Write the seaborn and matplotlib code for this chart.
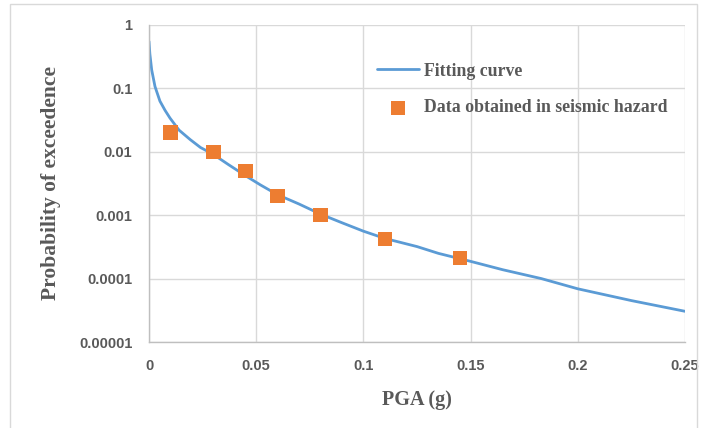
import matplotlib
matplotlib.use('Agg')
import matplotlib.pyplot as plt
import seaborn as sns
import pandas as pd
from matplotlib.patches import Rectangle
from matplotlib.font_manager import FontProperties

# fitted curve
curve_pga = [0.0, 0.0004, 0.00125, 0.0028, 0.0051, 0.0075, 0.0098, 0.014, 0.0192,
             0.024, 0.030, 0.037, 0.045, 0.052, 0.060, 0.070, 0.080, 0.090, 0.100,
             0.110, 0.125, 0.135, 0.150, 0.165, 0.183, 0.200, 0.225, 0.250]
curve_prob = [0.55, 0.35, 0.196, 0.107, 0.063, 0.045, 0.034, 0.022, 0.0156,
              0.0117, 0.0091, 0.0063, 0.0042, 0.003, 0.0021, 0.0015, 0.00104,
              0.00076, 0.00056, 0.00043, 0.00032, 0.00025, 0.000187, 0.000138,
              0.0001, 0.000069, 0.000045, 0.0000305]

# hazard data points
data_pga = [0.01, 0.03, 0.045, 0.06, 0.08, 0.11, 0.145]
data_prob = [0.02, 0.01, 0.005, 0.002, 0.001, 0.00042, 0.00021]

y_ticks = [1, 0.1, 0.01, 0.001, 0.0001, 0.00001]
y_labels = ['1', '0.1', '0.01', '0.001', '0.0001', '0.00001']
x_ticks = [0, 0.05, 0.1, 0.15, 0.2, 0.25]
x_labels = ['0', '0.05', '0.1', '0.15', '0.2', '0.25']

curve_df = pd.DataFrame({'pga': curve_pga, 'prob': curve_prob})
data_df = pd.DataFrame({'pga': data_pga, 'prob': data_prob})

sns.set_style('whitegrid', {'grid.color': '#d9d9d9', 'axes.edgecolor': '#bfbfbf'})

fig = plt.figure(figsize=(7.08, 4.28), dpi=100)
ax = fig.add_axes([149 / 708, 1 - 342 / 428, (685 - 149) / 708, (342 - 25) / 428])

sns.lineplot(data=curve_df, x='pga', y='prob', ax=ax, color='#5b9bd5', linewidth=2,
             label='Fitting curve')
sns.scatterplot(data=data_df, x='pga', y='prob', ax=ax, color='#ed7d31', marker='s',
                s=110, edgecolor='none', label='Data obtained in seismic hazard', zorder=3)

ax.set_yscale('log')
ax.set_ylim(0.00001, 1)
ax.set_xlim(0, 0.25)
ax.set_yticks(y_ticks)
ax.set_yticklabels(y_labels)
ax.set_xticks(x_ticks)
ax.set_xticklabels(x_labels)
ax.minorticks_off()
ax.grid(True, color='#d9d9d9', linewidth=1)

for side in ['top', 'right']:
    ax.spines[side].set_visible(False)
for side in ['left', 'bottom']:
    ax.spines[side].set_color('#bfbfbf')
    ax.spines[side].set_linewidth(1)

tick_font = FontProperties(family='Liberation Sans', weight='bold', size=10.5)
ax.tick_params(axis='both', length=0, labelcolor='#595959')
ax.tick_params(axis='y', pad=12)
ax.tick_params(axis='x', pad=12.5)
for lab in ax.get_xticklabels() + ax.get_yticklabels():
    lab.set_fontproperties(tick_font)

xlab_font = FontProperties(family='Liberation Serif', weight='bold', size=14.5)
ylab_font = FontProperties(family='Liberation Serif', weight='bold', size=15.5)
ax.set_xlabel('PGA (g)', fontproperties=xlab_font, color='#595959', labelpad=12)
ax.set_ylabel('Probability of exceedence', fontproperties=ylab_font, color='#595959',
              labelpad=13)

legend_font = FontProperties(family='Liberation Serif', weight='bold', size=12.8)
leg = ax.legend(loc='upper left', bbox_to_anchor=(0.396, 0.932), frameon=False,
                prop=legend_font, labelspacing=1.12, handlelength=2.35, handletextpad=0.3)
for t in leg.get_texts():
    t.set_color('#595959')

# outer chart border
fig.patches.append(Rectangle((10 / 708, -0.01), 687 / 708, 1 - 4 / 428 + 0.01,
                             transform=fig.transFigure, fill=False,
                             edgecolor='#d9d9d9', linewidth=1))

fig.savefig('out.png', dpi=100)
